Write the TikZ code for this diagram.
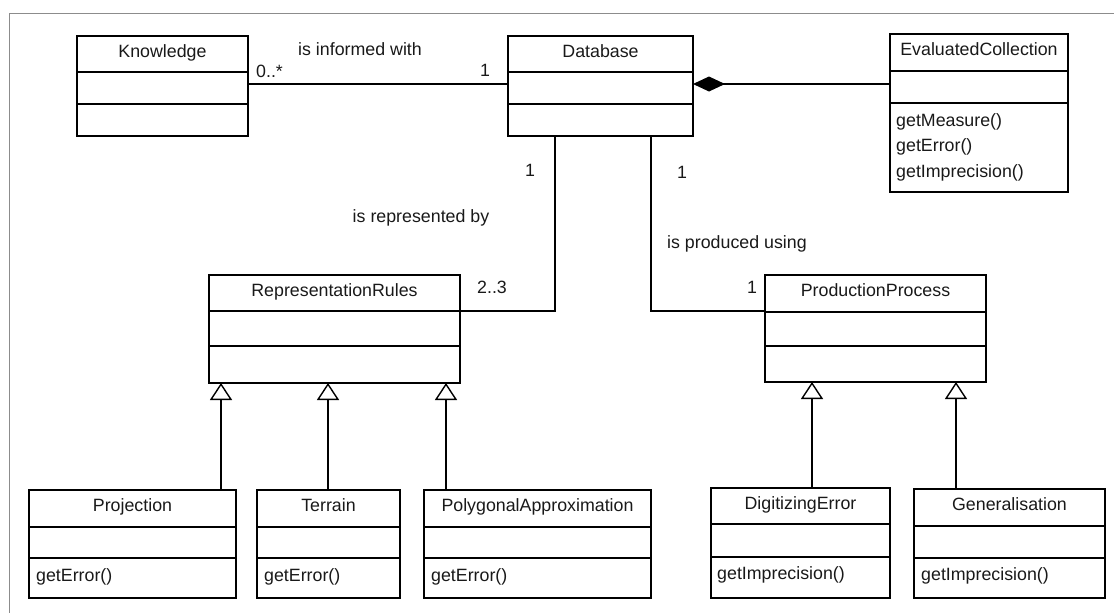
\documentclass[tikz,border=0pt]{standalone}
\usepackage{fontspec}
\setmainfont{Liberation Sans}
\usetikzlibrary{arrows.meta}
\newcommand{\umlclass}[8]{%
  \node[classbox, minimum width={#4-#2}, minimum height={#5-#3}] (#1) at ({(#2+#4)/2},{(#3+#5)/2}) {};
  \draw[divider] (#2,#6) -- (#4,#6);
  \draw[divider] (#2,#7) -- (#4,#7);
  \node[txt, anchor=base] (#1-title) at ({(#2+#4)/2},{#3+21.5}) {#8};
}
\begin{document}
\begin{tikzpicture}[x=1pt,y=-1pt,
  classbox/.style={draw=black, line width=1.4pt, inner sep=0pt, outer sep=0pt, rectangle},
  divider/.style={draw=black, line width=2.6pt},
  txt/.style={inner sep=0pt, font=\fontsize{17.8}{21}\selectfont, text=black!90},
  optxt/.style={txt, anchor=base west},
  lbl/.style={txt, anchor=base},
  conn/.style={draw=black, line width=1.4pt},
  gen/.style={conn, -{Triangle[open, fill=white, length=17pt, width=22pt]}},
  comp/.style={conn, {Diamond[length=32pt, width=15pt]}-},
  frame/.style={draw=black!45, line width=1pt}]
\useasboundingbox (0,0) rectangle (1114,613);
\draw[frame] (9,613) -- (9,13) -- (1114,13);

% classes
\umlclass{K}{77}{36}{248}{136}{72}{104}{Knowledge}
\umlclass{D}{508}{36}{693}{136}{72}{104}{Database}
\umlclass{E}{890}{34}{1068}{192}{71}{103}{EvaluatedCollection}
\umlclass{R}{209}{275}{460}{383}{311}{346}{RepresentationRules}
\umlclass{PP}{765}{275}{986}{382}{312}{346}{ProductionProcess}
\umlclass{Pj}{29}{490}{236}{598}{527}{558}{Projection}
\umlclass{T}{257}{490}{400}{598}{527}{558}{Terrain}
\umlclass{PA}{424}{490}{651}{598}{527}{558}{PolygonalApproximation}
\umlclass{DE}{711}{488}{890}{598}{524}{557}{DigitizingError}
\umlclass{G}{914}{489}{1105}{598}{526}{558}{Generalisation}

% operations
\node[optxt] (E-op1) at (896,126) {getMeasure()};
\node[optxt] (E-op2) at (896,151) {getError()};
\node[optxt] (E-op3) at (896,177) {getImprecision()};
\node[optxt] (Pj-op) at (36,581) {getError()};
\node[optxt] (T-op) at (264,581) {getError()};
\node[optxt] (PA-op) at (431,581) {getError()};
\node[optxt] (DE-op) at (717,579) {getImprecision()};
\node[optxt] (G-op) at (921,580) {getImprecision()};

% helper coordinates
\coordinate (yA) at (0,84);
\coordinate (yR) at (0,311);
\coordinate (xDR) at (555,0);
\coordinate (xDP) at (651,0);
\coordinate (xPj) at (221,0);
\coordinate (xT) at (328,0);
\coordinate (xPA) at (446,0);
\coordinate (xDE) at (812,0);
\coordinate (xG) at (956,0);

% associations
\draw[conn] (K.east |- yA) -- (D.west |- yA);
\draw[comp] (D.east |- yA) -- (E.west |- yA);
\draw[conn] (D.south -| xDR) |- (R.east |- yR);
\draw[conn] (D.south -| xDP) |- (PP.west |- yR);

% generalisations
\draw[gen] (Pj.north -| xPj) -- (R.south -| xPj);
\draw[gen] (T.north -| xT) -- (R.south -| xT);
\draw[gen] (PA.north -| xPA) -- (R.south -| xPA);
\draw[gen] (DE.north -| xDE) -- (PP.south -| xDE);
\draw[gen] (G.north -| xG) -- (PP.south -| xG);

% association labels
\node[txt, anchor=base west] (l-inf) at (298,55) {is informed with};
\node[txt, anchor=base west] (m-k) at (256,77) {0..*};
\node[lbl] (m-d1) at (485,76) {1};
\node[lbl] (m-d2) at (530,176) {1};
\node[lbl] (m-d3) at (682,178) {1};
\node[lbl] (l-rep) at (421,222) {is represented by};
\node[txt, anchor=base west] (l-prod) at (667,248) {is produced using};
\node[lbl] (m-r) at (492,293) {2..3};
\node[lbl] (m-p) at (752,293) {1};
\end{tikzpicture}
\end{document}
